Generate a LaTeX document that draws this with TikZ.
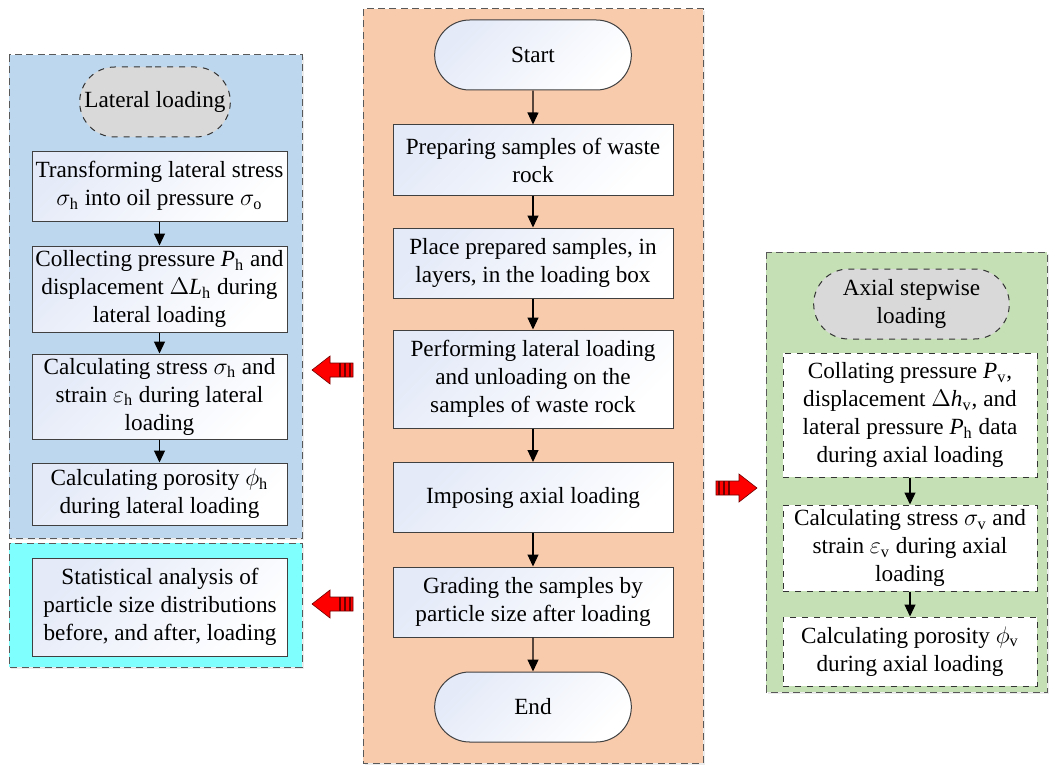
\documentclass[tikz,border=0pt]{standalone}
\usepackage{fontspec}
\setmainfont{Liberation Serif}
\usetikzlibrary{shapes.misc, arrows.meta, shadows}

\definecolor{panelblue}{RGB}{189,215,238}
\definecolor{panelcyan}{RGB}{128,255,255}
\definecolor{panelorange}{RGB}{248,203,173}
\definecolor{panelgreen}{RGB}{197,224,180}
\definecolor{capgray}{RGB}{217,217,217}
\definecolor{boxtint}{RGB}{228,234,248}
\definecolor{arrowred}{RGB}{255,0,0}
\definecolor{arrowdark}{RGB}{110,0,0}

\tikzset{
  stepbox/.style={rectangle, draw=black!75, line width=0.5pt, top color=boxtint, bottom color=white, shading angle=45,
    align=center, minimum width=140pt, minimum height=35pt, inner sep=1pt, font=\fontsize{11.6}{14}\selectfont},
  sidebox/.style={stepbox, minimum width=127.5pt},
  axialbox/.style={rectangle, draw=black!80, dashed, line width=0.5pt, fill=white, align=center,
    minimum width=127pt, inner sep=1pt, font=\fontsize{11.6}{14}\selectfont},
  terminal/.style={rounded rectangle, draw=black!75, line width=0.5pt, top color=boxtint, bottom color=white, shading angle=45,
    minimum width=105pt, minimum height=35pt, font=\fontsize{11.6}{14}\selectfont},
  graycap/.style={rounded rectangle, draw=black!80, dashed, line width=0.5pt, fill=capgray, align=center,
    minimum height=35pt, font=\fontsize{11.6}{14}\selectfont},
  panel/.style={draw=black!65, line width=0.5pt, dash pattern=on 3.5pt off 2.2pt,
    drop shadow={shadow xshift=1pt, shadow yshift=-1pt, opacity=0.15}},
  flow/.style={-{Triangle[length=6pt,width=5.5pt]}, line width=0.6pt},
}

% block arrow with striped tail, tip at (#1,#2); #3=1 points left, #3=-1 points right
\newcommand{\redarrow}[3]{%
  \begin{scope}[shift={(#1,#2)}, xscale=#3]
    \fill[arrowred, draw=arrowdark, line width=0.3pt] (0,0) -- (18,-14) -- (18,-7) -- (41,-7) -- (41,7) -- (18,7) -- (18,14) -- cycle;
    \foreach \s in {28,33,38}
      \draw[arrowdark, line width=1pt] (\s,-7) -- (\s,7);
  \end{scope}}

\begin{document}
\begin{tikzpicture}[x=0.5pt, y=-0.5pt]
\useasboundingbox (0,0) rectangle (1049,765);

% panels
\fill[panelblue, panel] (9,55) rectangle (302,538);
\fill[panelcyan, panel] (9,543) rectangle (302,667);
\fill[panelorange, panel] (363,9) rectangle (703,763);
\fill[panelgreen, panel] (766,252) rectangle (1047,692);

% main flow
\node[terminal] (start) at (533,55) {Start};
\node[stepbox] (prep) at (533,160) {Preparing samples of waste\\rock};
\node[stepbox] (place) at (533,263) {Place prepared samples, in\\layers, in the loading box};
\node[stepbox, minimum height=49pt] (perf) at (533,379) {Performing lateral loading\\and unloading on the\\samples of waste rock};
\node[stepbox] (impose) at (533,497.5) {Imposing axial loading};
\node[stepbox] (grade) at (533,602) {Grading the samples by\\particle size after loading};
\node[terminal] (finish) at (533,707) {End};

\draw[flow] (start) -- (prep);
\draw[flow] (prep) -- (place);
\draw[flow] (place) -- (perf);
\draw[flow] (perf) -- (impose);
\draw[flow] (impose) -- (grade);
\draw[flow] (grade) -- (finish);

% lateral loading
\node[graycap, minimum width=82pt] (lateral) at (155,102) {Lateral loading};
\node[sidebox] (lat1) at (159.5,186) {Transforming lateral stress\\$\sigma_{\mathrm{h}}$ into oil pressure $\sigma_{\mathrm{o}}$};
\node[sidebox, minimum height=43pt] (lat2) at (159.5,289) {Collecting pressure $\mathit{P}_{\mathrm{h}}$ and\\displacement $\Delta \mathit{L}_{\mathrm{h}}$ during\\lateral loading};
\node[sidebox, minimum height=42.5pt] (lat3) at (159.5,396.5) {Calculating stress $\sigma_{\mathrm{h}}$ and\\strain $\varepsilon_{\mathrm{h}}$ during lateral\\loading};
\node[sidebox, minimum height=31pt] (lat4) at (159.5,494) {Calculating porosity $\phi_{\mathrm{h}}$\\during lateral loading};
\draw[flow] (lat1) -- (lat2);
\draw[flow] (lat2) -- (lat3);
\draw[flow] (lat3) -- (lat4);

\node[sidebox, minimum height=49pt] (stats) at (160,607) {Statistical analysis of\\particle size distributions\\before, and after, loading};

% axial loading
\node[graycap, minimum width=104.5pt] (axial) at (911.5,304) {Axial stepwise\\loading};
\node[axialbox, minimum height=62pt] (ax1) at (910,415) {Collating pressure $\mathit{P}_{\mathrm{v}}$,\\displacement $\Delta \mathit{h}_{\mathrm{v}}$, and\\lateral pressure $\mathit{P}_{\mathrm{h}}$ data\\during axial loading};
\node[axialbox, minimum height=43pt] (ax2) at (910,548) {Calculating stress $\sigma_{\mathrm{v}}$ and\\strain $\varepsilon_{\mathrm{v}}$ during axial\\loading};
\node[axialbox, minimum height=34.5pt] (ax3) at (910,651.5) {Calculating porosity $\phi_{\mathrm{v}}$\\during axial loading};
\draw[flow] (ax1) -- (ax2);
\draw[flow] (ax2) -- (ax3);

% red arrows
\redarrow{312}{370}{1}
\redarrow{312}{604}{1}
\redarrow{757}{488}{-1}

\end{tikzpicture}
\end{document}
